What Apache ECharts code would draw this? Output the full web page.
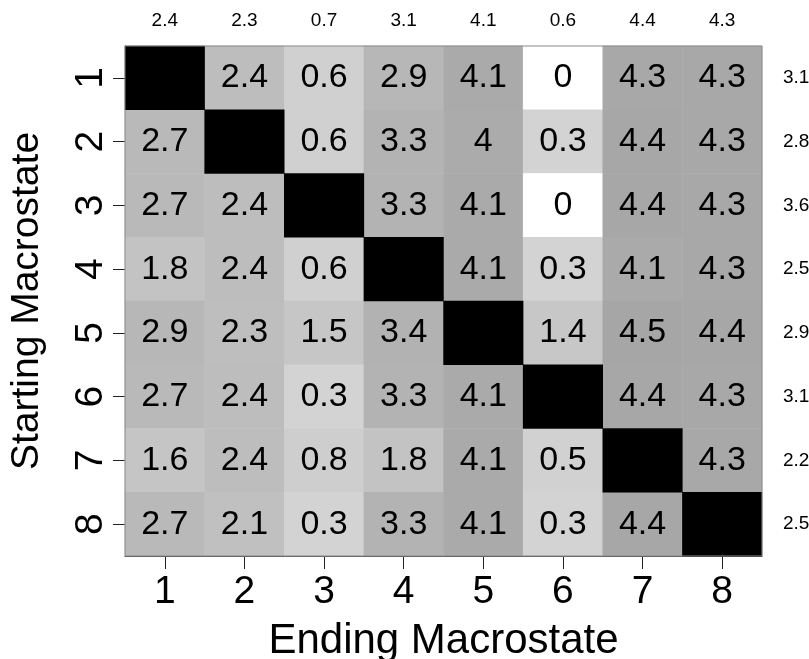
<!DOCTYPE html>
<html>
<head>
<meta charset="utf-8">
<script src="https://cdn.jsdelivr.net/npm/echarts@6/dist/echarts.min.js"></script>
<style>html,body{margin:0;padding:0;background:#fff;}#c{width:809px;height:659px;}</style>
</head>
<body>
<div id="c"></div>
<script>
const states = ['1','2','3','4','5','6','7','8'];
// rows = starting macrostate, columns = ending macrostate; null = diagonal
const row1 = [null, 2.4, 0.6, 2.9, 4.1, 0, 4.3, 4.3];
const row2 = [2.7, null, 0.6, 3.3, 4, 0.3, 4.4, 4.3];
const row3 = [2.7, 2.4, null, 3.3, 4.1, 0, 4.4, 4.3];
const row4 = [1.8, 2.4, 0.6, null, 4.1, 0.3, 4.1, 4.3];
const row5 = [2.9, 2.3, 1.5, 3.4, null, 1.4, 4.5, 4.4];
const row6 = [2.7, 2.4, 0.3, 3.3, 4.1, null, 4.4, 4.3];
const row7 = [1.6, 2.4, 0.8, 1.8, 4.1, 0.5, null, 4.3];
const row8 = [2.7, 2.1, 0.3, 3.3, 4.1, 0.3, 4.4, null];
const colSummary = ['2.4','2.3','0.7','3.1','4.1','0.6','4.4','4.3'];
const rowSummary = ['3.1','2.8','3.6','2.5','2.9','3.1','2.2','2.5'];

const rows = [row1,row2,row3,row4,row5,row6,row7,row8];
const cells = [], diag = [];
rows.forEach((r, i) => r.forEach((v, j) => {
  if (v === null) diag.push([j, i, 1]);
  else cells.push([j, i, v]);
}));

// grey ramp: 0 -> white, 0.3..4.5 -> light grey to mid grey (stops every 0.3)
const rampColors = [];
for (let k = 0; k <= 15; k++) {
  if (k === 0) { rampColors.push('#ffffff'); continue; }
  const v = k * 0.3;
  const g = Math.round(211 - (v - 0.3) / 4.2 * 45);
  rampColors.push('rgb(' + g + ',' + g + ',' + g + ')');
}

const FONT = 'Liberation Sans, Arial, sans-serif';
const chart = echarts.init(document.getElementById('c'), null, {renderer: 'canvas'});
chart.setOption({
  backgroundColor: '#fff',
  animation: false,
  textStyle: {fontFamily: FONT},
  grid: {left: 125, top: 46, width: 637, height: 510, containLabel: false, outerBoundsMode: 'none',
    show: true, borderColor: '#8a8a8a', borderWidth: 1, backgroundColor: 'transparent', z: 10},
  xAxis: [{
    type: 'category', data: states, position: 'bottom',
    name: 'Ending Macrostate', nameLocation: 'middle', nameGap: 64, nameMoveOverlap: false,
    nameTextStyle: {fontSize: 42, color: '#000', fontFamily: FONT},
    axisLine: {show: true, lineStyle: {color: '#222', width: 1}},
    axisTick: {show: true, alignWithLabel: true, length: 13, lineStyle: {color: '#222'}},
    axisLabel: {fontSize: 39, color: '#000', margin: 17, fontFamily: FONT},
    splitLine: {show: false}
  }, {
    type: 'category', data: colSummary, position: 'top',
    axisLine: {show: false}, axisTick: {show: false},
    axisLabel: {fontSize: 19, color: '#000', margin: 16, fontFamily: FONT}
  }],
  yAxis: [{
    type: 'category', data: states, inverse: true, position: 'left',
    name: 'Starting Macrostate', nameLocation: 'middle', nameGap: 78, nameMoveOverlap: false,
    nameTextStyle: {fontSize: 39, color: '#000', fontFamily: FONT},
    axisLine: {show: true, lineStyle: {color: '#222', width: 1}},
    axisTick: {show: true, alignWithLabel: true, length: 12, lineStyle: {color: '#222'}},
    axisLabel: {fontSize: 39, color: '#000', margin: 14, rotate: 90, fontFamily: FONT},
    splitLine: {show: false}
  }, {
    type: 'category', data: rowSummary, inverse: true, position: 'right',
    axisLine: {show: false}, axisTick: {show: false},
    axisLabel: {fontSize: 19, color: '#000', margin: 21, fontFamily: FONT}
  }],
  visualMap: {
    show: false, type: 'continuous', seriesIndex: 0, dimension: 2,
    min: 0, max: 4.5,
    inRange: {color: rampColors}
  },
  series: [{
    type: 'heatmap', xAxisIndex: 0, yAxisIndex: 0, data: cells,
    label: {show: true, fontSize: 34, color: '#000', fontFamily: FONT,
      formatter: p => String(p.value[2])},
    itemStyle: {borderWidth: 0}
  }, {
    type: 'heatmap', xAxisIndex: 0, yAxisIndex: 0, data: diag,
    itemStyle: {color: '#000', borderWidth: 0},
    label: {show: false}
  }]
});
</script>
</body>
</html>
